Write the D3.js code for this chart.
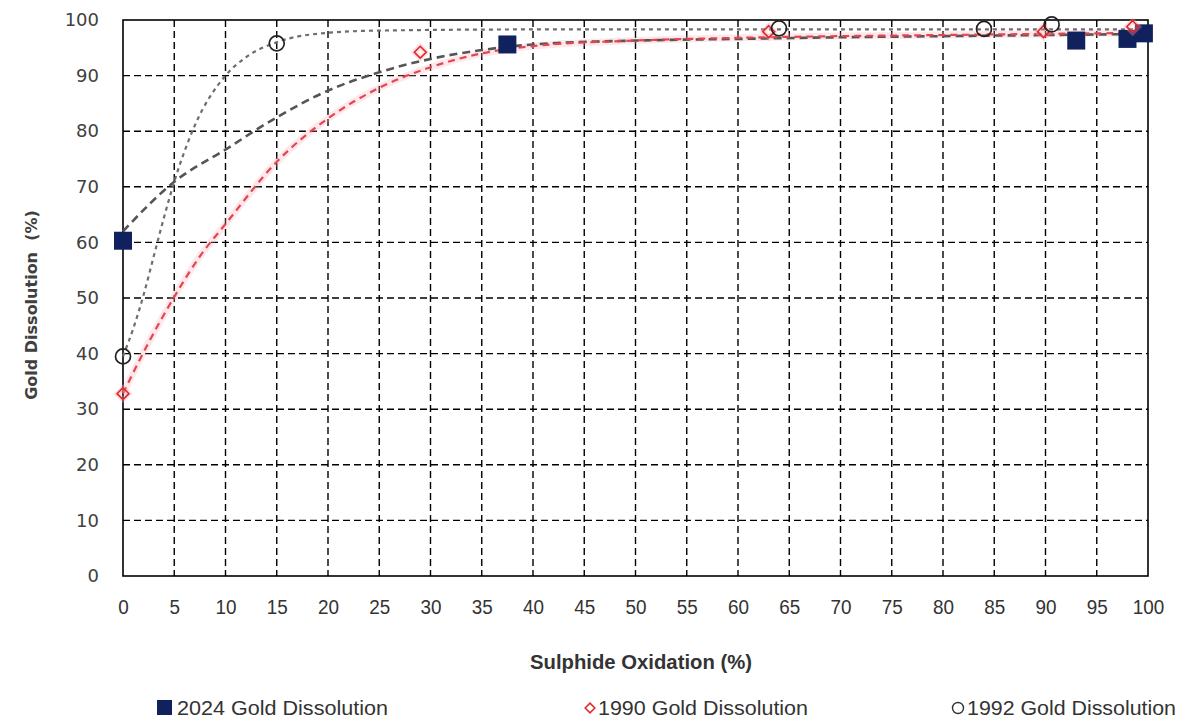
<!DOCTYPE html>
<html><head><meta charset="utf-8">
<script src="https://cdn.jsdelivr.net/npm/d3@7"></script>
<style>
html,body{margin:0;padding:0;background:#fff;}
svg{display:block;}
</style></head>
<body>
<svg id="chart" width="1180" height="720"></svg>
<script>
// ---- data ----
const xTicks = [0,5,10,15,20,25,30,35,40,45,50,55,60,65,70,75,80,85,90,95,100];
const yTicks = [0,10,20,30,40,50,60,70,80,90,100];

const seriesNames = ["2024 Gold Dissolution", "1990 Gold Dissolution", "1992 Gold Dissolution"];

const x2024 = [0, 37.5, 93, 98, 99.6];
const y2024 = [60.3, 95.6, 96.3, 96.6, 97.6];

const x1990 = [0, 29, 63, 89.8, 98.5];
const y1990 = [32.8, 94.2, 97.9, 97.9, 98.8];

const x1992 = [0, 15, 64, 84, 90.6];
const y1992 = [39.5, 95.8, 98.5, 98.4, 99.2];

// trend lines
const trend2024X = [0, 5, 10, 15, 20, 25, 30, 35, 40, 50, 60, 70, 80, 90, 100];
const trend2024Y = [62, 70.9, 76.7, 82.5, 87.3, 90.6, 93, 94.6, 95.6, 96.3, 96.6, 96.9, 97.1, 97.3, 97.5];

const trend1990X = [0, 2.5, 5, 7.5, 10, 15, 20, 25, 30, 35, 40, 50, 60, 70, 80, 90, 100];
const trend1990Y = [32.8, 42, 50.2, 57.5, 63.3, 74.5, 82.3, 87.8, 91.5, 94, 95.3, 96.3, 96.8, 97.1, 97.3, 97.5, 97.7];

const trend1992X = [0, 1, 2, 3, 4, 5, 7, 10, 12, 15, 20, 25, 40, 60, 80, 100];
const trend1992Y = [39.5, 44.5, 50.5, 57.5, 64.5, 70.9, 81, 90, 93.3, 96, 97.7, 98.1, 98.3, 98.3, 98.3, 98.3];

// ---- layout ----
const L = 123, R = 1148, T = 20, B = 576;
const svg = d3.select("#chart");
const x = d3.scaleLinear().domain([0,100]).range([L,R]);
const y = d3.scaleLinear().domain([0,100]).range([B,T]);
const narrow = "'Liberation Sans',Arimo,Arial,sans-serif";

// grid
const g = svg.append("g");
g.selectAll(".vg").data(xTicks.filter(d=>d>0&&d<100)).enter().append("line")
  .attr("x1",d=>x(d)).attr("x2",d=>x(d)).attr("y1",T).attr("y2",B)
  .attr("stroke","#000").attr("stroke-width",1.4).attr("stroke-dasharray","7,4");
g.selectAll(".hg").data(yTicks.filter(d=>d>0&&d<100)).enter().append("line")
  .attr("y1",d=>y(d)).attr("y2",d=>y(d)).attr("x1",L).attr("x2",R)
  .attr("stroke","#000").attr("stroke-width",1.4).attr("stroke-dasharray","7,4");
g.append("rect").attr("x",L).attr("y",T).attr("width",R-L).attr("height",B-T)
  .attr("fill","none").attr("stroke","#000").attr("stroke-width",1.6);

// axes labels via d3 axes
const xAxis = d3.axisBottom(x).tickValues(xTicks).tickSize(0).tickPadding(22).tickFormat(d3.format("d"));
const xg = svg.append("g").attr("transform",`translate(0,${B})`).call(xAxis);
xg.select(".domain").remove();
xg.selectAll("text").attr("font-family",narrow)
  .attr("font-size",21).attr("fill","#333").attr("transform","scale(0.9,1)")
  .attr("dy","0.75em");

const yAxis = d3.axisLeft(y).tickValues(yTicks).tickSize(0).tickPadding(24).tickFormat(d3.format("d"));
const yg = svg.append("g").attr("transform",`translate(${L},0)`).call(yAxis);
yg.select(".domain").remove();
yg.selectAll("text").attr("font-family","'DejaVu Sans',sans-serif")
  .attr("font-size",18).attr("fill","#404040");

// axis titles
svg.append("text").attr("x",530).attr("y",669)
  .attr("font-family",narrow).attr("font-weight","bold")
  .attr("font-size",21).attr("fill","#333")
  .attr("textLength",222).attr("lengthAdjust","spacingAndGlyphs").text("Sulphide Oxidation (%)");
svg.append("text").attr("transform","translate(37,305) rotate(-90)").attr("text-anchor","middle")
  .attr("font-family","'DejaVu Sans',sans-serif").attr("font-weight","bold")
  .attr("font-size",16).attr("fill","#404040").attr("xml:space","preserve").text("Gold Dissolution  (%)");

// trend lines
const line = d3.line().x(d=>x(d[0])).y(d=>y(d[1])).curve(d3.curveMonotoneX);
const zip = (a,b)=>a.map((v,i)=>[v,b[i]]);
svg.append("path").datum(zip(trend1990X,trend1990Y)).attr("d",line)
  .attr("fill","none").attr("stroke","rgba(255,160,175,0.25)").attr("stroke-width",7);
svg.append("path").datum(zip(trend2024X,trend2024Y)).attr("d",line)
  .attr("fill","none").attr("stroke","#555").attr("stroke-width",2.6).attr("stroke-dasharray","8,5");
svg.append("path").datum(zip(trend1992X,trend1992Y)).attr("d",line)
  .attr("fill","none").attr("stroke","#6e6e6e").attr("stroke-width",2.2).attr("stroke-dasharray","4,4");
svg.append("path").datum(zip(trend1990X,trend1990Y)).attr("d",line)
  .attr("fill","none").attr("stroke","#e04850").attr("stroke-width",2.2).attr("stroke-dasharray","7,5");

// markers
const navy = "#10215e";
svg.selectAll(".sq").data(zip(x2024,y2024)).enter().append("rect")
  .attr("x",d=>x(d[0])-9).attr("y",d=>y(d[1])-9).attr("width",18).attr("height",18).attr("fill",navy);
const diamond = d3.symbol().type(d3.symbolDiamond2).size(90);
svg.selectAll(".dm").data(zip(x1990,y1990)).enter().append("path")
  .attr("transform",d=>`translate(${x(d[0])},${y(d[1])})`).attr("d",diamond)
  .attr("fill","none").attr("stroke","rgba(255,160,175,0.35)").attr("stroke-width",5);
svg.selectAll(".dm2").data(zip(x1990,y1990)).enter().append("path")
  .attr("transform",d=>`translate(${x(d[0])},${y(d[1])})`).attr("d",diamond)
  .attr("fill","none").attr("stroke","#e02828").attr("stroke-width",1.6);
svg.selectAll(".ci").data(zip(x1992,y1992)).enter().append("circle")
  .attr("cx",d=>x(d[0])).attr("cy",d=>y(d[1])).attr("r",7.5)
  .attr("fill","none").attr("stroke","#222").attr("stroke-width",1.7);

// legend
const ly = 715;
const legText = (xx, s, w) => svg.append("text").attr("x",xx).attr("y",ly)
  .attr("font-family",narrow).attr("font-size",20).attr("fill","#333")
  .attr("textLength",w).attr("lengthAdjust","spacingAndGlyphs").text(s);
svg.append("rect").attr("x",157).attr("y",700).attr("width",15).attr("height",15).attr("fill",navy);
legText(177, seriesNames[0], 211);
svg.append("path").attr("transform","translate(590,708)").attr("d",d3.symbol().type(d3.symbolDiamond2).size(60))
  .attr("fill","none").attr("stroke","#e02828").attr("stroke-width",1.5);
legText(598, seriesNames[1], 210);
svg.append("circle").attr("cx",958).attr("cy",708).attr("r",5.5).attr("fill","none").attr("stroke","#333").attr("stroke-width",1.4);
legText(967, seriesNames[2], 209);
</script>
</body></html>
